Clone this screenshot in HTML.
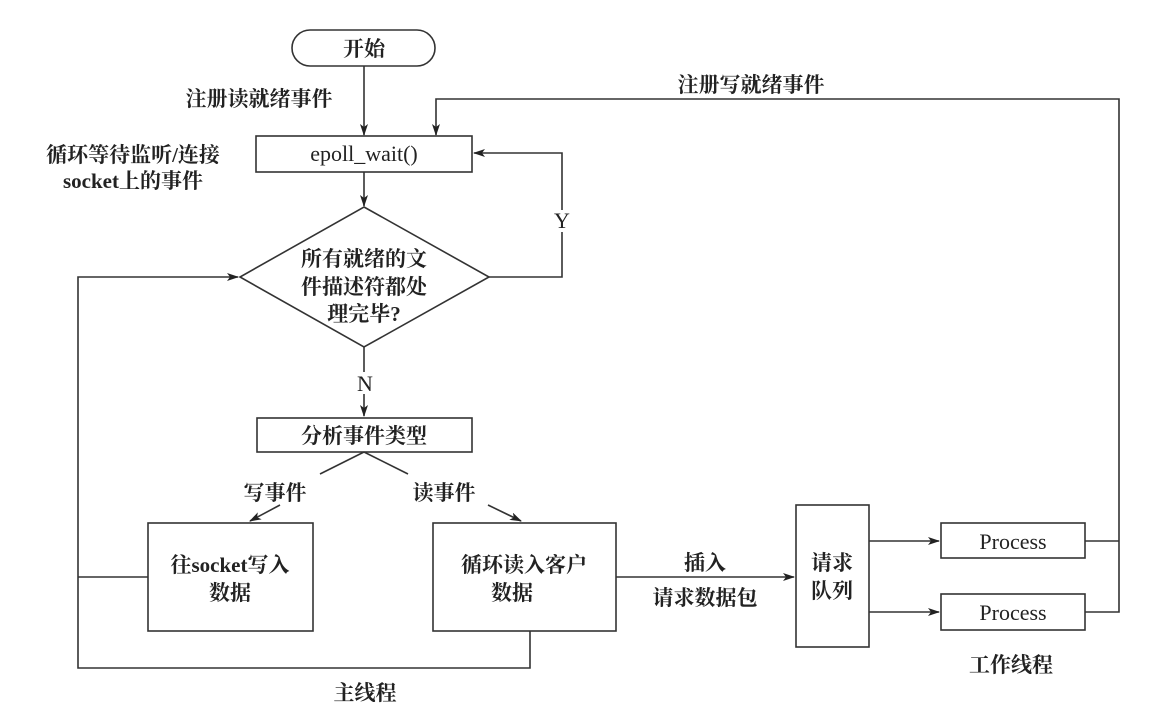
<!DOCTYPE html>
<html><head><meta charset="utf-8"><style>
html,body{margin:0;padding:0;background:#fff;}
svg{display:block;}
text{font-family:"Liberation Serif","Noto Serif CJK SC","Noto Sans CJK SC",serif;fill:#222;}
.c{font-family:"Liberation Serif","Noto Serif CJK SC",serif;font-weight:bold;font-size:21px;}
.s{font-size:22px;}
</style></head><body>
<svg width="1154" height="724" viewBox="0 0 1154 724" xmlns="http://www.w3.org/2000/svg">
<defs><marker id="a" markerWidth="12" markerHeight="8" refX="11" refY="4" orient="auto" markerUnits="userSpaceOnUse"><path d="M0,0 L12,4 L0,8 L3,4 z" fill="#222"/></marker></defs>
<g fill="none" stroke="#333" stroke-width="1.6">
<rect x="292" y="30" width="143" height="36" rx="18"/>
<line x1="364" y1="66" x2="364" y2="135" marker-end="url(#a)"/>
<polyline points="1117,99 436,99 436,135" marker-end="url(#a)"/>
<rect x="256" y="136" width="216" height="36"/>
<line x1="364" y1="172" x2="364" y2="206" marker-end="url(#a)"/>
<polygon points="364,207 489,277 364,347 240,277"/>
<polyline points="489,277 562,277 562,232"/>
<polyline points="562,210 562,153 474,153" marker-end="url(#a)"/>
<line x1="364" y1="347" x2="364" y2="372"/>
<line x1="364" y1="394" x2="364" y2="416" marker-end="url(#a)"/>
<rect x="257" y="418" width="215" height="34"/>
<polyline points="364,452 320,474"/>
<line x1="280" y1="505" x2="250" y2="521" marker-end="url(#a)"/>
<polyline points="364,452 408,474"/>
<line x1="488" y1="505" x2="521" y2="521" marker-end="url(#a)"/>
<rect x="148" y="523" width="165" height="108"/>
<rect x="433" y="523" width="183" height="108"/>
<line x1="148" y1="577" x2="78" y2="577"/>
<polyline points="530,631 530,668 78,668 78,277 238,277" marker-end="url(#a)"/>
<line x1="616" y1="577" x2="794" y2="577" marker-end="url(#a)"/>
<rect x="796" y="505" width="73" height="142"/>
<line x1="869" y1="541" x2="939" y2="541" marker-end="url(#a)"/>
<line x1="869" y1="612" x2="939" y2="612" marker-end="url(#a)"/>
<rect x="941" y="523" width="144" height="35"/>
<rect x="941" y="594" width="144" height="36"/>
<polyline points="1085,541 1119,541"/>
<polyline points="1085,612 1119,612 1119,99 1117,99"/>
</g>
<text class="c" x="364" y="56" text-anchor="middle" font-size="22">开始</text>
<text class="c" x="259" y="106" text-anchor="middle">注册读就绪事件</text>
<text class="c" x="751" y="92" text-anchor="middle">注册写就绪事件</text>
<text class="c" x="133" y="162" text-anchor="middle">循环等待监听/连接</text>
<text class="c" x="133" y="188" text-anchor="middle">socket上的事件</text>
<text class="s" x="364" y="161" text-anchor="middle">epoll_wait()</text>
<text class="s" x="562" y="228" text-anchor="middle">Y</text>
<text class="c" x="364" y="266" text-anchor="middle" font-size="22">所有就绪的文</text>
<text class="c" x="364" y="294" text-anchor="middle" font-size="22">件描述符都处</text>
<text class="c" x="364" y="321" text-anchor="middle" font-size="22">理完毕?</text>
<text class="s" x="365" y="391" text-anchor="middle">N</text>
<text class="c" x="364" y="443" text-anchor="middle">分析事件类型</text>
<text class="c" x="275" y="500" text-anchor="middle">写事件</text>
<text class="c" x="444" y="500" text-anchor="middle">读事件</text>
<text class="c" x="230" y="572" text-anchor="middle">往socket写入</text>
<text class="c" x="230" y="600" text-anchor="middle">数据</text>
<text class="c" x="524" y="572" text-anchor="middle">循环读入客户</text>
<text class="c" x="512" y="600" text-anchor="middle">数据</text>
<text class="c" x="705" y="570" text-anchor="middle">插入</text>
<text class="c" x="705" y="605" text-anchor="middle">请求数据包</text>
<text class="c" x="832" y="570" text-anchor="middle">请求</text>
<text class="c" x="832" y="598" text-anchor="middle">队列</text>
<text class="s" x="1013" y="549" text-anchor="middle">Process</text>
<text class="s" x="1013" y="620" text-anchor="middle">Process</text>
<text class="c" x="1011" y="672" text-anchor="middle">工作线程</text>
<text class="c" x="365" y="700" text-anchor="middle">主线程</text>
</svg>
</body></html>
